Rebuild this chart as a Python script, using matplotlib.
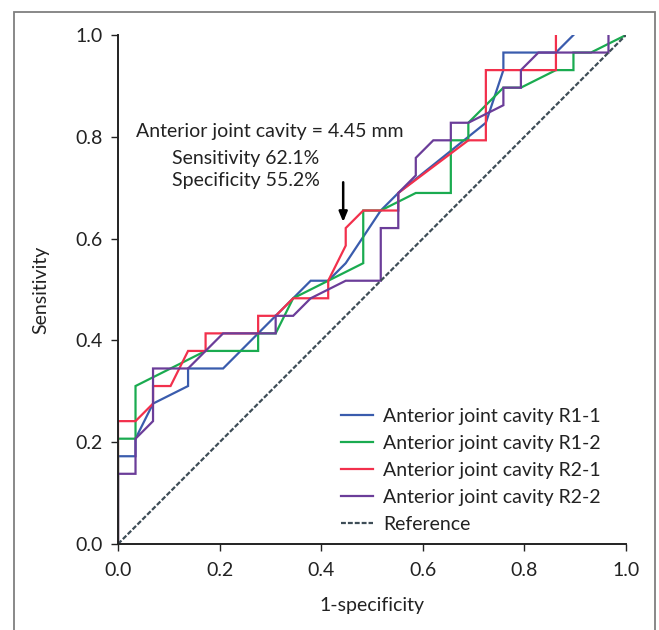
import matplotlib
matplotlib.use("Agg")
import matplotlib.pyplot as plt
from matplotlib.patches import Rectangle
import numpy as np

plt.rcParams['font.family'] = ['Lato', 'DejaVu Sans']

N = 29  # cases per group (steps of 1/29)

# ROC curves as counts of false positives (x) and true positives (y)
r11_fp = [0, 0, 1, 1, 2, 4, 4, 6, 11, 12, 13, 15, 16, 21, 22, 22, 25, 26]
r11_tp = [0, 5, 5, 6, 8, 9, 10, 10, 15, 15, 16, 19, 20, 24, 27, 28, 28, 29]

r12_fp = [0, 0, 1, 1, 5, 8, 8, 9, 10, 14, 14, 15, 17, 19, 19, 20, 20, 22, 23, 25, 26, 26, 27, 29]
r12_tp = [0, 6, 6, 9, 11, 11, 12, 12, 14, 16, 19, 19, 20, 20, 23, 23, 24, 26, 26, 27, 27, 28, 28, 29]

r21_fp = [0, 0, 1, 2, 2, 3, 4, 5, 5, 8, 8, 9, 10, 12, 12, 13, 13, 14, 16, 16, 20, 21, 21, 25, 25]
r21_tp = [0, 7, 7, 8, 9, 9, 11, 11, 12, 12, 13, 13, 14, 14, 15, 17, 18, 19, 19, 20, 23, 23, 27, 27, 29]

r22_fp = [0, 0, 1, 1, 2, 2, 4, 6, 9, 9, 10, 11, 13, 15, 15, 16, 16, 17, 17, 18, 19, 19, 20, 22, 22, 23, 23, 24, 28, 28]
r22_tp = [0, 4, 4, 6, 7, 10, 10, 12, 12, 13, 13, 14, 15, 15, 18, 18, 20, 21, 22, 23, 23, 24, 24, 25, 26, 26, 27, 28, 28, 29]

labels = ["Anterior joint cavity R1-1", "Anterior joint cavity R1-2",
          "Anterior joint cavity R2-1", "Anterior joint cavity R2-2"]
colors = ["#3a5cad", "#1aab50", "#f2304c", "#6b3d99"]
ref_color = "#3e4d57"

cut_fp, cut_tp = 13, 18  # cut-off point
annot = ["Anterior joint cavity = 4.45 mm", "Sensitivity 62.1%", "Specificity 55.2%"]

FS = 14
TXT = "#222222"

fig = plt.figure(figsize=(6.59, 6.30), dpi=100)
fig.patches.append(Rectangle((14/659, -0.1), (655-14)/659, 1.1 - 12/630,
                             transform=fig.transFigure, fill=False,
                             edgecolor="#7f7f7f", linewidth=1.3))
ax = fig.add_axes([118/659, 86/630, 508/659, 509/630])

series = [(r11_fp, r11_tp), (r12_fp, r12_tp), (r21_fp, r21_tp), (r22_fp, r22_tp)]
for (fp, tp), lab, c in zip(series, labels, colors):
    ax.plot(np.array(fp) / N, np.array(tp) / N, color=c, lw=1.6, label=lab,
            solid_joinstyle='miter', zorder=1)
ax.plot([0, 1], [0, 1], color=ref_color, lw=1.6, ls=(0, (2.2, 0.9)),
        label="Reference", zorder=1)

ax.set_xlim(0, 1)
ax.set_ylim(0, 1)
ax.set_xticks([0, 0.2, 0.4, 0.6, 0.8, 1.0])
ax.set_yticks([0, 0.2, 0.4, 0.6, 0.8, 1.0])
ax.set_xticklabels(["0.0", "0.2", "0.4", "0.6", "0.8", "1.0"])
ax.set_yticklabels(["0.0", "0.2", "0.4", "0.6", "0.8", "1.0"])
for s in ["top", "right"]:
    ax.spines[s].set_visible(False)
for s in ["left", "bottom"]:
    ax.spines[s].set_color("#222222")
    ax.spines[s].set_linewidth(1.4)
    ax.spines[s].set_zorder(3)
ax.tick_params(direction="out", length=5, width=1.0, color="#222222",
               labelsize=FS, labelcolor=TXT)
ax.tick_params(axis="x", pad=8)
ax.tick_params(axis="y", pad=6)
ax.set_xlabel("1-specificity", fontsize=FS, color=TXT, labelpad=13)
ax.set_ylabel("Sensitivity", fontsize=FS, color=TXT, labelpad=19)

leg = ax.legend(loc="lower left", bbox_to_anchor=(0.439, 0.022), frameon=False,
                fontsize=FS, handlelength=1.65, handletextpad=0.5,
                labelspacing=0.51, borderpad=0, borderaxespad=0)
for t in leg.get_texts():
    t.set_color(TXT)

ax.text(0.036, 0.81, annot[0], fontsize=FS, color=TXT, va="center", ha="left")
ax.text(0.106, 0.758, annot[1], fontsize=FS, color=TXT, va="center", ha="left")
ax.text(0.106, 0.714, annot[2], fontsize=FS, color=TXT, va="center", ha="left")

ax.annotate("", xy=(cut_fp / N - 0.005, cut_tp / N + 0.012),
            xytext=(cut_fp / N - 0.005, cut_tp / N + 0.09),
            arrowprops=dict(arrowstyle="-|>,head_length=0.6,head_width=0.25",
                            color="black", lw=1.8, shrinkA=0, shrinkB=0))

fig.savefig("out.png", dpi=100, facecolor="white")
